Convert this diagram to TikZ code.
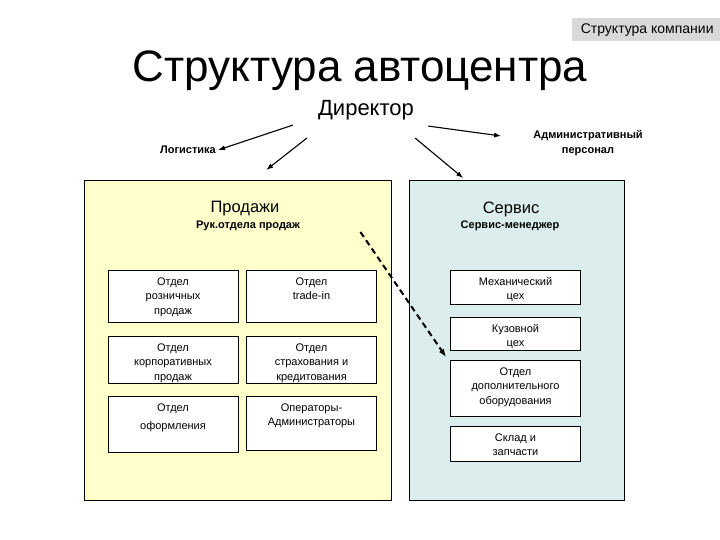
\documentclass[tikz,border=0pt]{standalone}
\usepackage{fontspec}
\setmainfont{Liberation Sans}
\usepackage{tikz}
\usetikzlibrary{arrows.meta, positioning, calc}
\definecolor{salesfill}{RGB}{255, 255, 204}
\definecolor{servicefill}{RGB}{220, 237, 237}
\definecolor{taggray}{RGB}{217, 217, 217}
\newcommand{\toplines}[1]{\begin{tabular}[t]{@{}c@{}}#1\end{tabular}}

\begin{document}
\begin{tikzpicture}[
    x=1pt, y=-1pt,
    bigbox/.style={draw, line width=1.4pt, anchor=north west, inner sep=0pt},
    subbox/.style={draw, fill=white, line width=0.9pt, anchor=north, minimum width=130pt, inner xsep=2pt, inner ysep=4pt, text height=11pt, text depth=#1, font=\fontsize{11}{14.5}\selectfont},
    boxtitle/.style={font=\fontsize{16.5}{18}\selectfont, inner sep=1pt},
    boldlbl/.style={font=\fontsize{11}{15}\selectfont\bfseries, align=center, inner sep=2pt},
    boss/.style={-{Latex[length=7pt,width=5pt]}, line width=1.1pt}
  ]
  \useasboundingbox (0,0) rectangle (720,540);

  % Header
  \node[fill=taggray, minimum width=150pt, minimum height=23pt, anchor=north west, inner sep=0pt, font=\fontsize{14}{16}\selectfont] (tag) at (572,18) {Структура компании};
  \node[font=\fontsize{44}{48}\selectfont, inner sep=0pt] (title) at (360,71) {Структура автоцентра};
  \node[font=\fontsize{22}{24}\selectfont, inner sep=2pt] (director) at (366,110) {Директор};
  \node[boldlbl] (logistics) at (188,150) {Логистика};
  \node[boldlbl] (admin) at (588,143) {Административный\\персонал};

  % Big blocks
  \node[bigbox, fill=salesfill, minimum width=307pt, minimum height=320pt] (sales) at (84,180) {};
  \node[bigbox, fill=servicefill, minimum width=215pt, minimum height=320pt] (service) at (409,180) {};

  \node[boxtitle] (salestitle) at (245,209) {Продажи};
  \node[boldlbl] (saleshead) at (248,226) {Рук.отдела продаж};
  \node[boxtitle] (servicetitle) at (511,209) {Сервис};
  \node[boldlbl] (servicehead) at (510,226) {Сервис-менеджер};

  % Sales departments
  \node[subbox=33pt] (retail) at (173,270) {\toplines{Отдел\\розничных\\продаж}};
  \node[subbox=28pt] (corporate) at (173,336) {\toplines{Отдел\\корпоративных\\продаж}};
  \node[subbox=37pt] (paperwork) at (173,396) {\toplines{Отдел\\[3.5pt]оформления}};
  \node[subbox=33pt] (tradein) at (311.5,270) {\toplines{Отдел\\trade-in}};
  \node[subbox=28pt] (insurance) at (311.5,336) {\toplines{Отдел\\страхования и\\кредитования}};
  \node[subbox=35pt] (operators) at (311.5,396) {\toplines{Операторы-\\Администраторы}};

  % Service departments
  \node[subbox=15pt] (mechanic) at (515.5,270) {\toplines{Механический\\цех}};
  \node[subbox=14pt] (body) at (515.5,317) {\toplines{Кузовной\\цех}};
  \node[subbox=37pt] (extra) at (515.5,360) {\toplines{Отдел\\дополнительного\\оборудования}};
  \node[subbox=16pt] (parts) at (515.5,426) {\toplines{Склад и\\запчасти}};

  % Arrows from director
  \draw[boss] ($(director.south west)+(-23,3)$) -- (logistics.east);
  \draw[boss] ($(director.south west)+(-9,16)$) -- ($(sales.north)+(28,-10)$);
  \draw[boss] ($(director.south east)+(-1,16)$) -- ($(service.north)+(-54,-2)$);
  \draw[boss] ($(director.south east)+(12,4)$) -- ($(admin.west)+(-30,-7)$);

  \draw[-{Latex[length=8pt,width=6pt]}, line width=2pt, dash pattern=on 6pt off 4pt] ($(sales.north east)+(-32,52)$) -- ($(extra.north west)+(-4,-3)$);

\end{tikzpicture}
\end{document}
